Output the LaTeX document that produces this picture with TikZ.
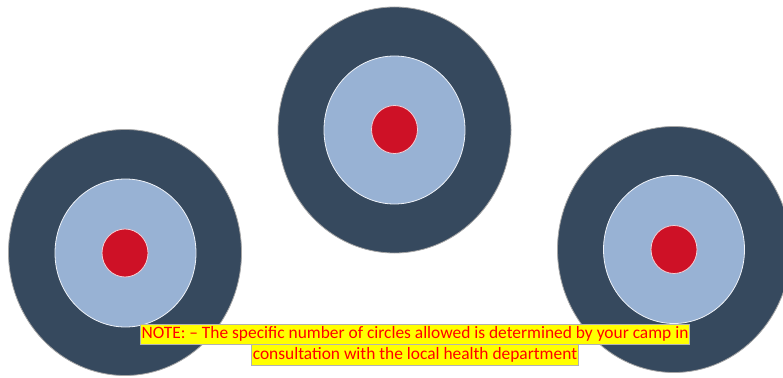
\documentclass[tikz,border=0pt]{standalone}
\usepackage{fontspec}
\setmainfont{Carlito}
\usetikzlibrary{shapes.geometric}
\definecolor{ringdark}{HTML}{36495E}
\definecolor{ringlight}{HTML}{98B2D4}
\definecolor{bullred}{HTML}{CE1126}
\definecolor{notered}{HTML}{FF0000}
\definecolor{noteyellow}{HTML}{FFFF00}
\begin{document}
\begin{tikzpicture}[
    x=1pt,y=-1pt,
    outer/.style={ellipse,draw=black!35,line width=.8pt,fill=ringdark,
        minimum width=233pt,minimum height=246pt,inner sep=0pt},
    middle/.style={ellipse,draw=white!85!ringlight,line width=.8pt,fill=ringlight,
        minimum width=141pt,minimum height=148pt,inner sep=0pt},
    bull/.style={ellipse,draw=white!80!bullred,line width=.8pt,fill=bullred,
        minimum width=46pt,minimum height=48pt,inner sep=0pt},
    note/.style={fill=noteyellow,draw=black!30,line width=.5pt,text=notered,
        font=\fontsize{17.4}{20}\selectfont,inner sep=1.2pt,
        text height=13.5pt,text depth=4.5pt}]
\useasboundingbox (0,0) rectangle (783,377);
% left target
\node[outer] (outerL) at (125,252.5) {};
\node[middle] (middleL) at (125.5,253) {};
\node[bull] (bullL) at (125,253) {};
% top target
\node[outer] (outerT) at (394.5,130) {};
\node[middle] (middleT) at (394.5,130) {};
\node[bull] (bullT) at (394.5,129.5) {};
% right target
\node[outer] (outerR) at (674,249.5) {};
\node[middle] (middleR) at (674,249.5) {};
\node[bull] (bullR) at (674,249.5) {};
% note
\node[note] (noteA) at (415,334) {NOTE: -- The specific number of circles allowed is determined by your camp in};
\node[note,anchor=north] (noteB) at (noteA.south) {consultation with the local health department};
\end{tikzpicture}
\end{document}
